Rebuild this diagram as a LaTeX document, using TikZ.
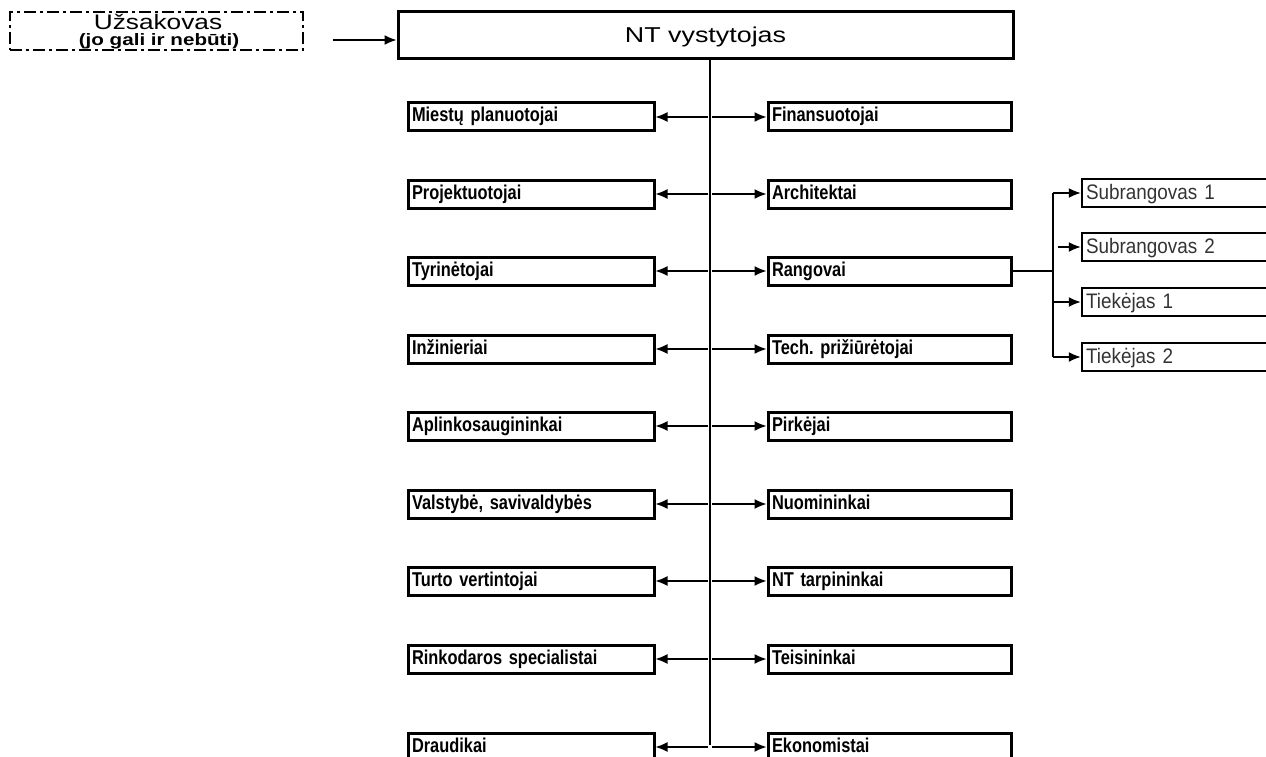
\documentclass[tikz,border=0pt]{standalone}
\usepackage{fontspec}
\setmainfont{Liberation Sans}
\newfontfamily\hdfont[FakeStretch=1.25]{Liberation Sans}
\newfontfamily\lbfont[FakeStretch=0.82,WordSpace=0.8]{Liberation Sans}
\newfontfamily\sbfont[FakeStretch=0.9]{Liberation Sans}
\usetikzlibrary{arrows.meta}
\frenchspacing
\tikzset{
  lbox/.style={draw, line width=3pt, rectangle, minimum height=28pt,
    inner xsep=4pt, text width=238pt, align=left, text height=14pt, text depth=4pt,
    font=\frenchspacing\lbfont\bfseries\fontsize{20}{22}\selectfont},
  sbox/.style={draw, line width=2.5pt, rectangle, minimum height=28pt,
    inner xsep=4pt, text width=230pt, align=left, text height=15pt, text depth=3pt,
    text=black!80, font=\sbfont\fontsize{21}{22}\selectfont},
  conn/.style={line width=1.4pt},
  arr/.style={line width=1.4pt, -{Latex[length=12pt,width=10pt]}},
}
\begin{document}
\begin{tikzpicture}[x=1pt,y=-1pt]
\useasboundingbox (0,0) rectangle (1266,757);
\clip (0,0) rectangle (1266,757);
% header
\node[draw, line width=2.2pt, dash pattern=on 12pt off 4pt on 3pt off 4pt,
  minimum width=293pt, minimum height=38pt, inner sep=0pt] (uz) at (156.5,31) {};
\node[anchor=base, font=\hdfont\fontsize{21}{22}\selectfont] (uzt) at (158,30) {Užsakovas};
\node[anchor=base, font=\hdfont\bfseries\fontsize{16.5}{18}\selectfont] (uzs) at (159,45.5) {(jo gali ir nebūti)};
\node[draw, line width=3pt, minimum width=615pt, minimum height=47pt, inner sep=0pt,
  text height=15pt, text depth=-6pt, font=\hdfont\fontsize{21.5}{22}\selectfont] (nt) at (705.5,35.5) {NT vystytojas};
\coordinate (a0) at (333,40);
\draw[arr] (a0) -- (nt.west |- a0);
% trunk
\coordinate (tb) at (710,745);
\draw[conn] (nt.south -| tb) -- (tb);
% rows
\foreach \i/\L/\R/\y in {1/Miestų planuotojai/Finansuotojai/117,
  2/Projektuotojai/Architektai/194,
  3/Tyrinėtojai/Rangovai/271,
  4/Inžinieriai/Tech. prižiūrėtojai/349,
  5/Aplinkosaugininkai/Pirkėjai/426,
  6/{Valstybė, savivaldybės}/Nuomininkai/504,
  7/Turto vertintojai/NT tarpininkai/581,
  8/Rinkodaros specialistai/Teisininkai/659,
  9/Draudikai/Ekonomistai/747}{
  \node[lbox] (l\i) at (531,\y) {\L};
  \node[lbox, text width=235pt] (r\i) at (889.5,\y) {\R};
  \coordinate (cl\i) at (708,\y);
  \coordinate (cr\i) at (712,\y);
  \draw[arr] (cl\i) -- (l\i.east);
  \draw[arr] (cr\i) -- (r\i.west);
}
% subcontractors
\node[sbox] (s1) at (1201,193) {Subrangovas 1};
\node[sbox] (s2) at (1201,247) {Subrangovas 2};
\node[sbox] (s3) at (1201,302) {Tiekėjas 1};
\node[sbox] (s4) at (1201,357) {Tiekėjas 2};
\coordinate (bx) at (1053,271);
\draw[conn] (r3.east) -- (bx);
\draw[conn] (bx |- s1) -- (bx |- s4);
\draw[arr] (bx |- s1) -- (s1.west);
\coordinate (b2) at (1058,247);
\draw[arr] (b2) -- (s2.west);
\draw[arr] (bx |- s3) -- (s3.west);
\draw[arr] (bx |- s4) -- (s4.west);
\end{tikzpicture}
\end{document}
